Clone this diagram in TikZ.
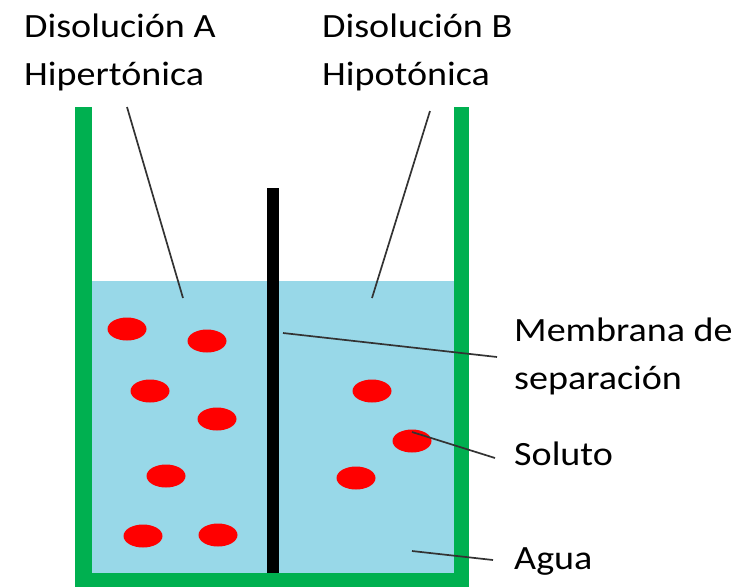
\documentclass[tikz,border=0pt]{standalone}
\usepackage{fontspec}
\setmainfont[FakeStretch=1.12]{Carlito}
\definecolor{wallgreen}{RGB}{0,176,80}
\definecolor{water}{RGB}{152,216,232}
\definecolor{solute}{RGB}{255,0,0}
\begin{document}
\begin{tikzpicture}[x=1pt,y=-1pt,
  lbl/.style={anchor=base west,inner sep=0pt,align=left,font=\fontsize{34}{48}\selectfont},
  leader/.style={draw=black!80,line width=1.7pt},
  dot/.style={fill=solute}]
\useasboundingbox (0,0) rectangle (756,587);
% water
\fill[water] (92,281) rectangle (454,573);
% container walls
\fill[wallgreen] (75,107) rectangle (92,587);
\fill[wallgreen] (454,107) rectangle (469,587);
\fill[wallgreen] (75,573) rectangle (469,587);
% membrane
\fill[black] (267,188) rectangle (279,573);
% solute particles
\foreach \x/\y in {127/329,207/341,150/391,217/419,166/476,143/536,218/535,372/391,412/441,356/478}
  \fill[dot] (\x,\y) ellipse [x radius=19.5pt, y radius=11.5pt];
% labels (anchor at the baseline of the last line)
\node[lbl] (labA) at (24,85) {Disolución A\\Hipertónica};
\node[lbl] (labB) at (322,85) {Disolución B\\Hipotónica};
\node[lbl] (labM) at (514,389) {Membrana de\\separación};
\node[lbl] (labS) at (514,465) {Soluto};
\node[lbl] (labW) at (514,569) {Agua};
% leader end points
\coordinate (a1) at (127,107);
\coordinate (a2) at (183,298);
\coordinate (b1) at (430,111);
\coordinate (b2) at (372,298);
\coordinate (m1) at (283,333);
\coordinate (m2) at (497,357);
\coordinate (s1) at (412,432);
\coordinate (s2) at (495,458);
\coordinate (w1) at (412,551);
\coordinate (w2) at (493,560);
\draw[leader] (a1) -- (a2);
\draw[leader] (b1) -- (b2);
\draw[leader] (m1) -- (m2);
\draw[leader] (s1) -- (s2);
\draw[leader] (w1) -- (w2);
\end{tikzpicture}
\end{document}
